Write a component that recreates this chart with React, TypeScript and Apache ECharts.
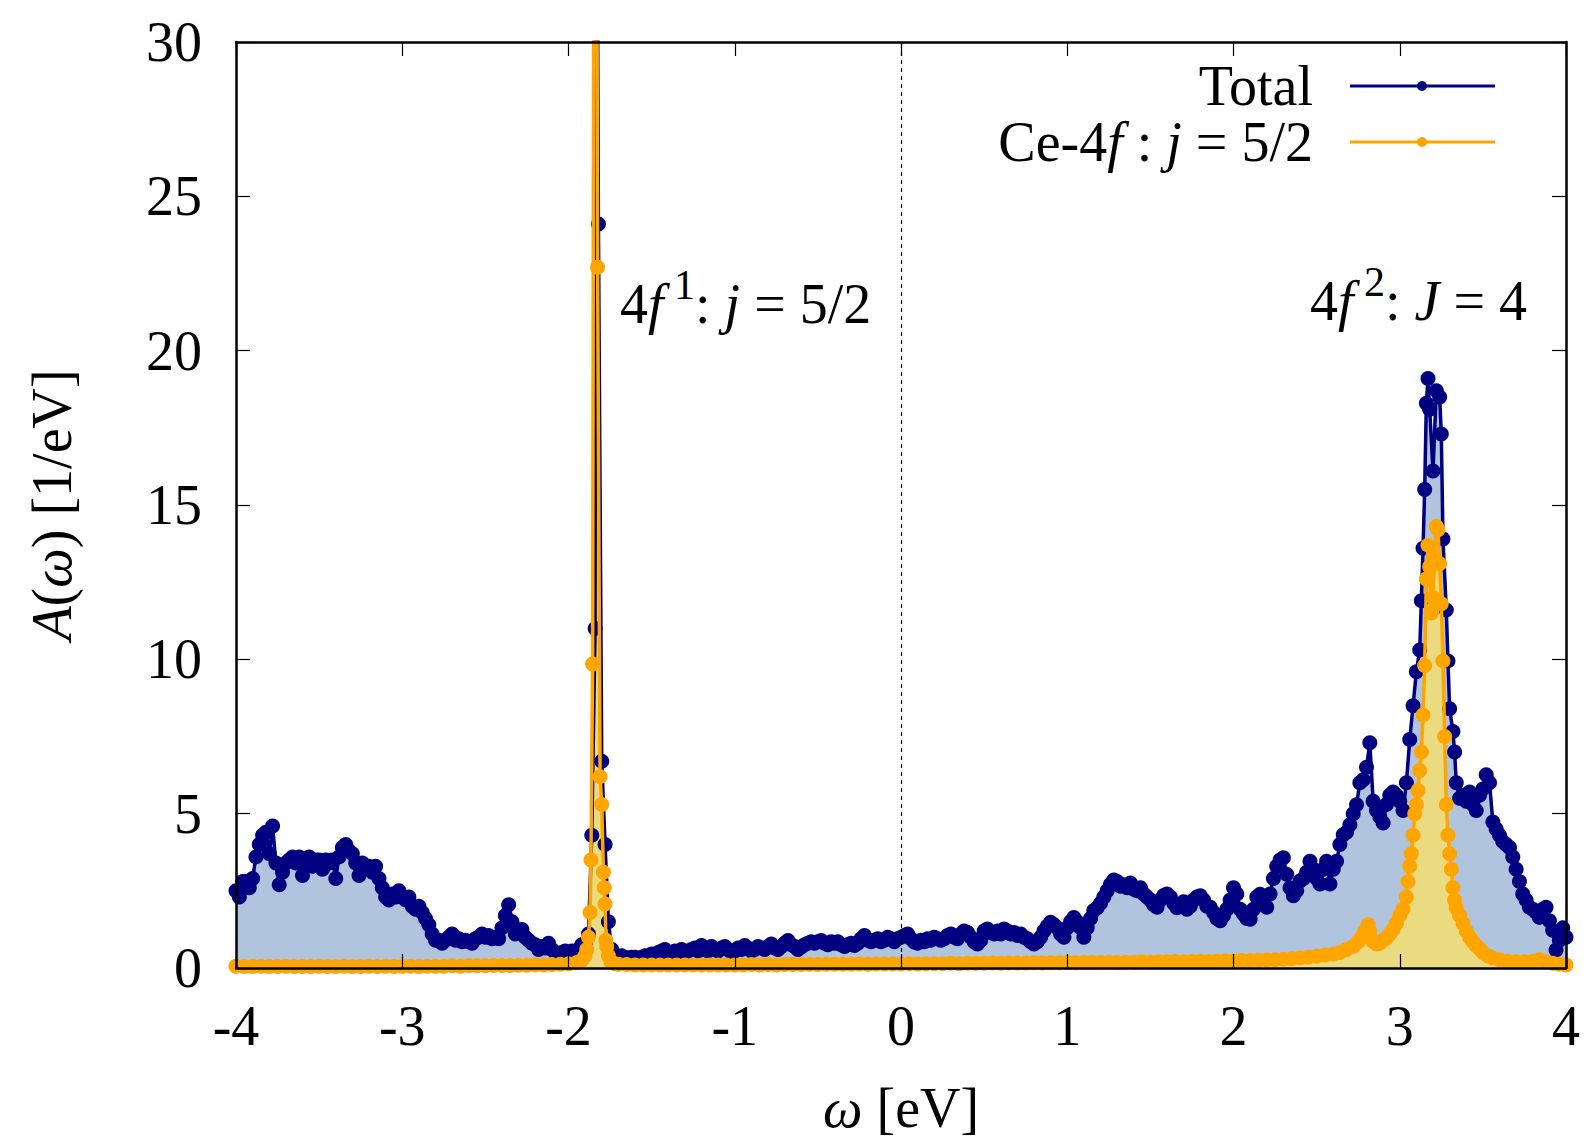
import React, { useEffect, useRef } from "react";
import * as echarts from "echarts";

const FONT = "'Liberation Serif', 'Times New Roman', serif";
const FS = 56;

// Axis ranges / ticks
const OMEGA_MIN = -4;
const OMEGA_MAX = 4;
const OMEGA_TICK = 1;
const A_MIN = 0;
const A_MAX = 30;
const A_TICK = 5;

// Total spectral function, sampled on a uniform omega grid starting at -4 eV with 0.02 eV spacing
const TOTAL_START = -4;
const TOTAL_STEP = 0.02;
const totalValues: number[] = [
  2.5, 2.3, 2.8, 2.8, 2.6, 2.9, 3.6, 4.0, 4.3, 4.4,
  3.7, 4.6, 3.4, 2.7, 3.1, 3.4, 3.5, 3.6, 3.4, 3.6,
  3.0, 3.5, 3.6, 3.3, 3.5, 3.5, 3.2, 3.5, 3.4, 3.5,
  2.9, 3.6, 3.9, 4.0, 3.8, 3.7, 3.4, 3.0, 3.4, 3.3,
  3.3, 3.1, 3.3, 2.9, 2.6, 2.3, 2.2, 2.4, 2.3, 2.5,
  2.3, 2.2, 2.3, 2.0, 1.9, 2.0, 1.8, 1.6, 1.4, 1.1,
  0.9, 0.9, 0.8, 0.9, 1.0, 1.1, 0.9, 0.95, 0.85, 0.9,
  0.85, 0.8, 0.95, 1.0, 1.1, 1.0, 1.05, 0.95, 1.0, 0.95,
  1.3, 1.7, 2.05, 1.5, 1.1, 1.2, 1.25, 1.0, 0.9, 0.8,
  0.75, 0.6, 0.7, 0.65, 0.8, 0.6, 0.5, 0.45, 0.5, 0.55,
  0.5, 0.55, 0.5, 0.6, 0.75, 0.8, 1.1, 4.3, 11.0, 24.1,
  6.7, 4.0, 1.5, 0.6, 0.4, 0.35, 0.4, 0.35, 0.3, 0.35,
  0.35, 0.3, 0.35, 0.4, 0.35, 0.45, 0.4, 0.5, 0.55, 0.6,
  0.45, 0.5, 0.55, 0.5, 0.6, 0.5, 0.55, 0.6, 0.65, 0.55,
  0.73, 0.6, 0.55, 0.7, 0.6, 0.55, 0.65, 0.7, 0.6, 0.5,
  0.55, 0.65, 0.6, 0.73, 0.65, 0.55, 0.6, 0.7, 0.65, 0.6,
  0.7, 0.78, 0.65, 0.6, 0.7, 0.8, 0.89, 0.75, 0.7, 0.6,
  0.68, 0.75, 0.8, 0.85, 0.8, 0.85, 0.89, 0.8, 0.75, 0.85,
  0.8, 0.85, 0.75, 0.7, 0.75, 0.8, 0.73, 0.8, 0.95, 1.05,
  0.9, 0.85, 0.9, 0.95, 0.85, 0.9, 1.0, 0.95, 0.85, 0.95,
  1.0, 1.05, 1.1, 0.95, 0.84, 0.8, 0.9, 0.85, 0.95, 0.9,
  1.0, 0.95, 0.9, 0.95, 1.05, 1.1, 1.0, 0.95, 1.1, 1.2,
  1.15, 1.0, 0.85, 0.78, 0.9, 1.2, 1.26, 1.15, 1.1, 1.2,
  1.1, 1.26, 1.2, 1.1, 1.15, 1.05, 1.1, 1.0, 0.95, 0.85,
  0.78, 0.85, 1.0, 1.2, 1.35, 1.48, 1.4, 1.3, 1.1, 1.0,
  1.3, 1.5, 1.64, 1.5, 1.3, 1.0, 1.3, 1.6, 1.86, 1.95,
  2.1, 2.3, 2.5, 2.71, 2.85, 2.8, 2.65, 2.7, 2.6, 2.75,
  2.55, 2.5, 2.6, 2.4, 2.3, 2.2, 2.05, 1.97, 2.2, 2.35,
  2.4, 2.3, 2.1, 1.95, 2.0, 2.15, 1.9, 2.0, 2.2, 2.3,
  2.34, 2.2, 2.0, 1.97, 1.8, 1.6, 1.53, 1.7, 1.9, 2.2,
  2.6, 2.4, 1.9, 1.75, 1.6, 1.58, 1.9, 2.3, 2.39, 2.2,
  1.97, 2.4, 2.9, 3.3, 3.5, 3.57, 3.04, 2.6, 2.34, 2.5,
  2.82, 2.9, 3.1, 3.46, 3.2, 2.9, 2.72, 3.2, 3.46, 2.72,
  3.2, 3.46, 4.0, 4.32, 4.4, 4.64, 5.0, 5.29, 6.0, 6.1,
  6.5, 7.3, 5.4, 5.1, 4.9, 4.7, 5.3, 5.6, 5.7, 5.6,
  5.4, 5.1, 6.0, 7.4, 8.5, 9.6, 10.3, 13.6, 18.3, 18.1,
  16.1, 18.7, 18.5, 13.9, 11.6, 8.4, 7.66, 6.0, 5.5, 5.6,
  5.4, 5.7, 5.3, 5.1, 5.6, 5.8, 6.26, 6.0, 4.73, 4.5,
  4.3, 4.1, 4.0, 3.9, 3.6, 3.2, 2.8, 2.4, 2.2, 1.97,
  1.9, 1.8, 1.64, 1.9, 1.97, 1.53, 1.22, 0.58, 0.9, 1.3,
  1.0,
];

// Extra Total points read in the sharp peaks (between grid points)
const totalExtraOmega: number[] = [-1.835, 3.13, 3.15, 3.17, 3.25, 3.29, 3.33];
const totalExtraValues: number[] = [45, 11.9, 15.5, 19.1, 17.3, 9.95, 7.0];

// Ce-4f j=5/2 partial spectral function
const ceOmega: number[] = [
  -4.0, -3.95, -3.9, -3.85, -3.8, -3.75, -3.7, -3.65, -3.6, -3.55,
  -3.5, -3.45, -3.4, -3.35, -3.3, -3.25, -3.2, -3.15, -3.1, -3.05,
  -3.0, -2.95, -2.9, -2.85, -2.8, -2.75, -2.7, -2.65, -2.6, -2.55,
  -2.5, -2.45, -2.4, -2.35, -2.3, -2.25, -2.2, -2.15, -2.1, -2.05,
  -2.0, -1.95, -1.92, -1.9, -1.89, -1.88, -1.87, -1.865, -1.855, -1.84,
  -1.825, -1.81, -1.8, -1.79, -1.785, -1.78, -1.775, -1.77, -1.76, -1.745,
  -1.72, -1.7, -1.65, -1.6, -1.55, -1.5, -1.45, -1.4, -1.35, -1.3,
  -1.25, -1.2, -1.15, -1.1, -1.05, -1.0, -0.95, -0.9, -0.85, -0.8,
  -0.75, -0.7, -0.65, -0.6, -0.55, -0.5, -0.45, -0.4, -0.35, -0.3,
  -0.25, -0.2, -0.15, -0.1, -0.05, 0.0, 0.05, 0.1, 0.15, 0.2,
  0.25, 0.3, 0.35, 0.4, 0.45, 0.5, 0.55, 0.6, 0.65, 0.7,
  0.75, 0.8, 0.85, 0.9, 0.95, 1.0, 1.05, 1.1, 1.15, 1.2,
  1.25, 1.3, 1.35, 1.4, 1.45, 1.5, 1.55, 1.6, 1.65, 1.7,
  1.75, 1.8, 1.85, 1.9, 1.95, 2.0, 2.05, 2.1, 2.15, 2.2,
  2.25, 2.3, 2.35, 2.4, 2.45, 2.5, 2.55, 2.6, 2.64, 2.68,
  2.72, 2.75, 2.77, 2.79, 2.81, 2.82, 2.84, 2.86, 2.88, 2.9,
  2.92, 2.94, 2.96, 2.98, 3.0, 3.02, 3.04, 3.05, 3.06, 3.07,
  3.08, 3.09, 3.1, 3.11, 3.12, 3.13, 3.14, 3.15, 3.16, 3.17,
  3.18, 3.19, 3.2, 3.21, 3.22, 3.23, 3.24, 3.25, 3.26, 3.27,
  3.28, 3.29, 3.3, 3.31, 3.32, 3.33, 3.34, 3.36, 3.38, 3.4,
  3.42, 3.44, 3.46, 3.48, 3.5, 3.53, 3.56, 3.6, 3.65, 3.7,
  3.75, 3.8, 3.84, 3.88, 3.92, 3.96, 4.0,
];
const ceValues: number[] = [
  0.06, 0.05, 0.05, 0.06, 0.05, 0.05, 0.06, 0.05, 0.05, 0.05,
  0.06, 0.05, 0.05, 0.06, 0.05, 0.05, 0.06, 0.05, 0.06, 0.05,
  0.06, 0.06, 0.05, 0.06, 0.06, 0.06, 0.07, 0.06, 0.07, 0.07,
  0.07, 0.08, 0.08, 0.08, 0.09, 0.09, 0.1, 0.1, 0.11, 0.12,
  0.14, 0.18, 0.25, 0.4, 0.6, 1.0, 1.8, 3.5, 9.85, 60,
  22.7, 6.2, 5.3, 3.1, 2.6, 2.07, 0.9, 0.7, 0.4, 0.2,
  0.14, 0.12, 0.11, 0.1, 0.1, 0.1, 0.1, 0.1, 0.1, 0.1,
  0.1, 0.1, 0.1, 0.1, 0.1, 0.1, 0.1, 0.11, 0.1, 0.11,
  0.1, 0.11, 0.11, 0.11, 0.12, 0.11, 0.12, 0.12, 0.12, 0.12,
  0.13, 0.12, 0.13, 0.13, 0.13, 0.13, 0.14, 0.13, 0.14, 0.14,
  0.14, 0.15, 0.14, 0.15, 0.15, 0.15, 0.16, 0.15, 0.16, 0.16,
  0.16, 0.17, 0.16, 0.17, 0.17, 0.18, 0.17, 0.18, 0.18, 0.18,
  0.19, 0.18, 0.19, 0.19, 0.2, 0.19, 0.2, 0.2, 0.21, 0.2,
  0.21, 0.22, 0.21, 0.22, 0.23, 0.23, 0.24, 0.24, 0.25, 0.26,
  0.27, 0.28, 0.3, 0.32, 0.35, 0.38, 0.42, 0.45, 0.5, 0.6,
  0.7, 0.85, 1.0, 1.2, 1.4, 1.2, 0.86, 0.78, 0.8, 0.9,
  0.97, 1.1, 1.25, 1.45, 1.7, 1.9, 2.3, 2.8, 3.3, 3.7,
  4.3, 5.0, 5.3, 5.75, 6.4, 7.0, 8.2, 9.8, 12.6, 13.7,
  13.0, 11.5, 12.0, 13.3, 14.3, 14.2, 13.1, 11.8, 9.95, 7.5,
  5.3, 4.3, 3.7, 3.2, 2.6, 2.2, 1.95, 1.7, 1.45, 1.2,
  1.0, 0.85, 0.72, 0.62, 0.5, 0.4, 0.32, 0.27, 0.22, 0.2,
  0.2, 0.22, 0.27, 0.2, 0.15, 0.12, 0.1,
];

const NAVY = "#000080";
const ORANGE = "#ffa500";
const BLUE_FILL = "#b0c4de";
const YELLOW_FILL = "#eadb81";

function buildTotal(): number[][] {
  const pts: number[][] = totalValues.map((v, i) => [
    Math.round((TOTAL_START + i * TOTAL_STEP) * 1000) / 1000,
    v,
  ]);
  totalExtraOmega.forEach((w, i) => pts.push([w, totalExtraValues[i]]));
  pts.sort((a, b) => a[0] - b[0]);
  return pts;
}

function buildCe(): number[][] {
  return ceOmega.map((w, i) => [w, ceValues[i]]);
}

const richBase = {
  n: { fontFamily: FONT, fontSize: FS, color: "#000" },
  i: { fontFamily: FONT, fontSize: FS, fontStyle: "italic", color: "#000" },
  sup: { fontFamily: FONT, fontSize: 42, color: "#000", padding: [0, 0, 38, 0] },
};

export default function App() {
  const ref = useRef<HTMLDivElement>(null);

  useEffect(() => {
    document.body.style.margin = "0";
    const chart = echarts.init(ref.current!, null, { renderer: "svg" });
    const totalData = buildTotal();
    const ceData = buildCe();

    const axisCommon = {
      type: "value" as const,
      z: 10,
      splitLine: { show: false },
      axisLine: { show: true, onZero: false, lineStyle: { color: "#000", width: 2.5 } },
      axisTick: { show: true, inside: true, length: 14, lineStyle: { color: "#000", width: 1.2 } },
    };

    const lineSeries = (name: string, data: number[][], color: string, z: number) => ({
      type: "line",
      name,
      z,
      data,
      showSymbol: false,
      lineStyle: { color, width: 3.5 },
      silent: true,
    });

    const dotSeries = (name: string, data: number[][], color: string, z: number) => ({
      type: "scatter",
      name,
      z,
      data,
      symbol: "circle",
      symbolSize: 15,
      clip: true,
      itemStyle: { color, borderWidth: 0, opacity: 1 },
      silent: true,
    });

    const option: any = {
      animation: false,
      backgroundColor: "#fff",
      grid: { left: 236, right: 22, top: 42, bottom: 167, containLabel: false },
      xAxis: [
        {
          ...axisCommon,
          position: "bottom",
          min: OMEGA_MIN,
          max: OMEGA_MAX,
          interval: OMEGA_TICK,
          axisLabel: { show: true, margin: 30, fontFamily: FONT, fontSize: FS, color: "#000" },
          name: "{i|ω}{n| [eV]}",
          nameLocation: "middle",
          nameGap: 112,
          nameTextStyle: { fontFamily: FONT, fontSize: FS, color: "#000", rich: richBase },
        },
        {
          ...axisCommon,
          position: "top",
          min: OMEGA_MIN,
          max: OMEGA_MAX,
          interval: OMEGA_TICK,
          axisLabel: { show: false },
        },
      ],
      yAxis: [
        {
          ...axisCommon,
          position: "left",
          min: A_MIN,
          max: A_MAX,
          interval: A_TICK,
          axisLabel: { show: true, margin: 34, fontFamily: FONT, fontSize: FS, color: "#000" },
          name: "{i|A}{n|(}{i|ω}{n|) [1/eV]}",
          nameLocation: "middle",
          nameGap: 156,
          nameTextStyle: { fontFamily: FONT, fontSize: FS, color: "#000", rich: richBase },
        },
        {
          ...axisCommon,
          position: "right",
          min: A_MIN,
          max: A_MAX,
          interval: A_TICK,
          axisLabel: { show: false },
        },
      ],
      series: [
        {
          type: "line",
          name: "zero",
          z: 1,
          data: [],
          markLine: {
            silent: true,
            symbol: "none",
            label: { show: false },
            lineStyle: { color: "#000", type: [4, 4], width: 1.2 },
            data: [{ xAxis: 0 }],
          },
        },
        {
          type: "line",
          name: "Total fill",
          z: 2,
          data: totalData,
          showSymbol: false,
          lineStyle: { opacity: 0, width: 0 },
          areaStyle: { color: BLUE_FILL, opacity: 1 },
          silent: true,
        },
        {
          type: "line",
          name: "Ce fill",
          z: 3,
          data: ceData,
          showSymbol: false,
          lineStyle: { opacity: 0, width: 0 },
          areaStyle: { color: YELLOW_FILL, opacity: 1 },
          silent: true,
        },
        lineSeries("Total", totalData, NAVY, 4),
        dotSeries("Total points", totalData, NAVY, 4),
        lineSeries("Ce-4f : j = 5/2", ceData, ORANGE, 5),
        dotSeries("Ce-4f points", ceData, ORANGE, 5),
      ],
      graphic: [
        {
          type: "text",
          x: 1313,
          y: 86,
          z: 20,
          style: {
            text: "Total",
            fontFamily: FONT,
            fontSize: FS,
            fill: "#000",
            align: "right",
            verticalAlign: "middle",
          },
        },
        {
          type: "line",
          z: 20,
          shape: { x1: 1350, y1: 86, x2: 1495, y2: 86 },
          style: { stroke: NAVY, lineWidth: 3 },
        },
        {
          type: "circle",
          z: 21,
          shape: { cx: 1422, cy: 86, r: 5 },
          style: { fill: NAVY },
        },
        {
          type: "text",
          x: 1313,
          y: 142,
          z: 20,
          style: {
            text: "{n|Ce-4}{i|f}{n| : }{i|j}{n| = 5/2}",
            rich: richBase,
            fontFamily: FONT,
            fontSize: FS,
            fill: "#000",
            align: "right",
            verticalAlign: "middle",
          },
        },
        {
          type: "line",
          z: 20,
          shape: { x1: 1350, y1: 142, x2: 1495, y2: 142 },
          style: { stroke: ORANGE, lineWidth: 3 },
        },
        {
          type: "circle",
          z: 21,
          shape: { cx: 1422, cy: 142, r: 5 },
          style: { fill: ORANGE },
        },
        {
          type: "text",
          x: 620,
          y: 304,
          z: 20,
          style: {
            text: "{n|4}{i|f}{sup| 1}{n|: }{i|j}{n| = 5/2}",
            rich: richBase,
            fontFamily: FONT,
            fontSize: FS,
            fill: "#000",
            align: "left",
            verticalAlign: "middle",
          },
        },
        {
          type: "text",
          x: 1310,
          y: 301,
          z: 20,
          style: {
            text: "{n|4}{i|f}{sup| 2}{n|: }{i|J}{n| = 4}",
            rich: richBase,
            fontFamily: FONT,
            fontSize: FS,
            fill: "#000",
            align: "left",
            verticalAlign: "middle",
          },
        },
      ],
    };

    chart.setOption(option);
    return () => chart.dispose();
  }, []);

  return <div ref={ref} style={{ width: 1588, height: 1141 }} />;
}
